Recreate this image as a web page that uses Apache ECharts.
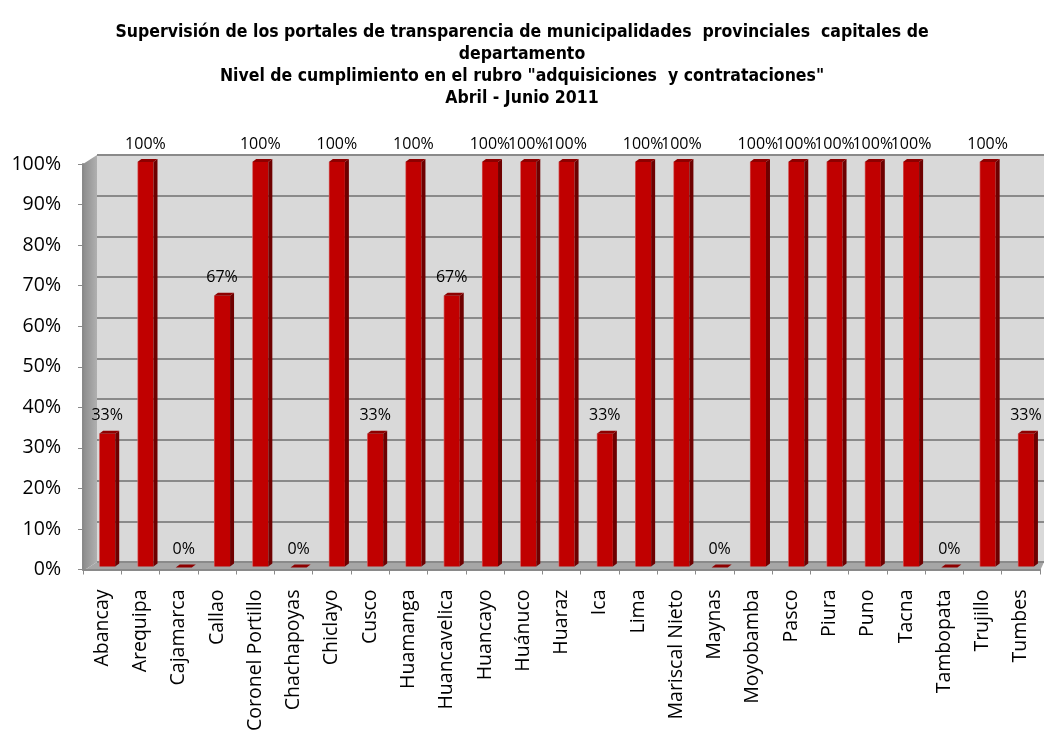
<!DOCTYPE html>
<html>
<head>
<meta charset="utf-8">
<script src="https://cdn.jsdelivr.net/npm/echarts@6/dist/echarts.min.js"></script>
<style>
  html, body { margin: 0; padding: 0; background: #fff; }
  #chart { width: 1044px; height: 734px; }
</style>
</head>
<body>
<div id="chart"></div>
<script>
// categorias (municipalidades)
const cities = ['Abancay', 'Arequipa', 'Cajamarca', 'Callao', 'Coronel Portillo', 'Chachapoyas',
  'Chiclayo', 'Cusco', 'Huamanga', 'Huancavelica', 'Huancayo', 'Huánuco', 'Huaraz', 'Ica', 'Lima',
  'Mariscal Nieto', 'Maynas', 'Moyobamba', 'Pasco', 'Piura', 'Puno', 'Tacna', 'Tambopata',
  'Trujillo', 'Tumbes'];
// nivel de cumplimiento (%)
const compliance = [33, 100, 0, 67, 100, 0, 100, 33, 100, 67, 100, 100, 100, 33, 100,
  100, 0, 100, 100, 100, 100, 100, 0, 100, 33];
const yTicks = [0, 10, 20, 30, 40, 50, 60, 70, 80, 90, 100];

const titleLines = [
  'Supervisión de los portales de transparencia de municipalidades  provinciales  capitales de',
  'departamento',
  'Nivel de cumplimiento en el rubro "adquisiciones  y contrataciones"',
  'Abril - Junio 2011'
];

// caja del grafico (plano frontal) y profundidad de la pared
const G = {left: 83, right: 4, top: 164, bottom: 163};
const DX = 14, DY = 9;
const W = 1044, H = 734;

const chart = echarts.init(document.getElementById('chart'));

// barra 3D: cara frontal, lateral y tapa
function renderBar(params, api) {
  const i = api.value(0);
  const v = api.value(1);
  const base = api.coord([i, 0]);
  const top = api.coord([i, v]);
  const band = api.size([1, 0])[0];
  const w = band * 0.42;
  const x0 = base[0] - 3;
  const d = 4;
  const yb = base[1] - 3;
  const yt = top[1] - 2;
  const children = [];
  if (v > 0) {
    children.push({
      type: 'rect',
      shape: {x: x0, y: yt, width: w, height: yb - yt},
      style: {
        fill: new echarts.graphic.LinearGradient(0, 0, 1, 0, [
          {offset: 0, color: '#d46a6a'},
          {offset: 0.08, color: '#c00000'},
          {offset: 1, color: '#c00000'}
        ])
      }
    });
    children.push({
      type: 'polygon',
      shape: {points: [[x0 + w, yt], [x0 + w + d, yt - 3], [x0 + w + d, yb - 3], [x0 + w, yb]]},
      style: {fill: '#6e0000'}
    });
  }
  children.push({
    type: 'polygon',
    shape: {points: [[x0, yt], [x0 + w, yt], [x0 + w + d, yt - 3], [x0 + d, yt - 3]]},
    style: {fill: '#8e0000'}
  });
  children.push({
    type: 'text',
    style: {
      x: x0 + w / 2, y: top[1] - 20, text: v + '%',
      fontFamily: 'Open Sans', fontSize: 16, fill: '#000',
      align: 'center', verticalAlign: 'middle'
    }
  });
  return {type: 'group', children: children};
}

const wallGray = '#8a8a8a';

const option = {
  backgroundColor: '#fff',
  animation: false,
  title: {
    text: titleLines.join('\n'),
    left: 'center',
    top: 16,
    textStyle: {
      fontFamily: 'Liberation Sans Narrow, DejaVu Sans Condensed, sans-serif',
      fontWeight: 'bold',
      fontSize: 17.5,
      lineHeight: 22,
      color: '#000'
    }
  },
  graphic: [
    // pared lateral izquierda
    {
      type: 'polygon', z: -1, silent: true,
      shape: {points: [[G.left, G.top], [G.left + DX, G.top - DY], [G.left + DX, H - G.bottom - DY], [G.left, H - G.bottom]]},
      style: {
        fill: new echarts.graphic.LinearGradient(0, 0, 1, 0, [
          {offset: 0, color: '#8c8c8c'}, {offset: 1, color: '#b0b0b0'}
        ])
      }
    },
    // piso
    {
      type: 'polygon', z: -1, silent: true,
      shape: {points: [[G.left, H - G.bottom], [G.left + DX, H - G.bottom - DY], [W, H - G.bottom - DY], [W - G.right, H - G.bottom]]},
      style: {fill: '#a6a6a6'}
    }
  ],
  grid: [
    {left: G.left, right: G.right, top: G.top, bottom: G.bottom},
    // pared del fondo, desplazada en profundidad
    {
      left: G.left + DX, right: 0, top: G.top - DY, bottom: G.bottom + DY,
      show: true, backgroundColor: '#d9d9d9', borderWidth: 0, z: -2
    }
  ],
  xAxis: [
    {
      type: 'category',
      gridIndex: 0,
      data: cities,
      axisLine: {lineStyle: {color: wallGray, width: 2}},
      axisTick: {show: true, length: 5, lineStyle: {color: wallGray}},
      axisLabel: {
        rotate: 90, interval: 0, margin: 20,
        fontFamily: 'Open Sans', fontSize: 19.5, color: '#000'
      }
    },
    {type: 'category', gridIndex: 1, data: cities, show: false}
  ],
  yAxis: [
    {
      type: 'value',
      gridIndex: 0,
      min: yTicks[0], max: yTicks[yTicks.length - 1], interval: 10,
      axisLine: {show: true, lineStyle: {color: wallGray, width: 2}},
      axisTick: {show: true, length: 5, lineStyle: {color: wallGray}},
      splitLine: {show: false},
      axisLabel: {
        formatter: '{value}%', margin: 22,
        fontFamily: 'Open Sans', fontSize: 19.5, color: '#000'
      }
    },
    {
      type: 'value',
      gridIndex: 1,
      min: yTicks[0], max: yTicks[yTicks.length - 1], interval: 10,
      axisLine: {show: false}, axisTick: {show: false}, axisLabel: {show: false},
      splitLine: {lineStyle: {color: wallGray, width: 2}}
    }
  ],
  series: [{
    type: 'custom',
    xAxisIndex: 0, yAxisIndex: 0,
    renderItem: renderBar,
    data: compliance.map((v, i) => [i, v]),
    encode: {x: 0, y: 1},
    clip: false
  }]
};
chart.setOption(option);
</script>
</body>
</html>
